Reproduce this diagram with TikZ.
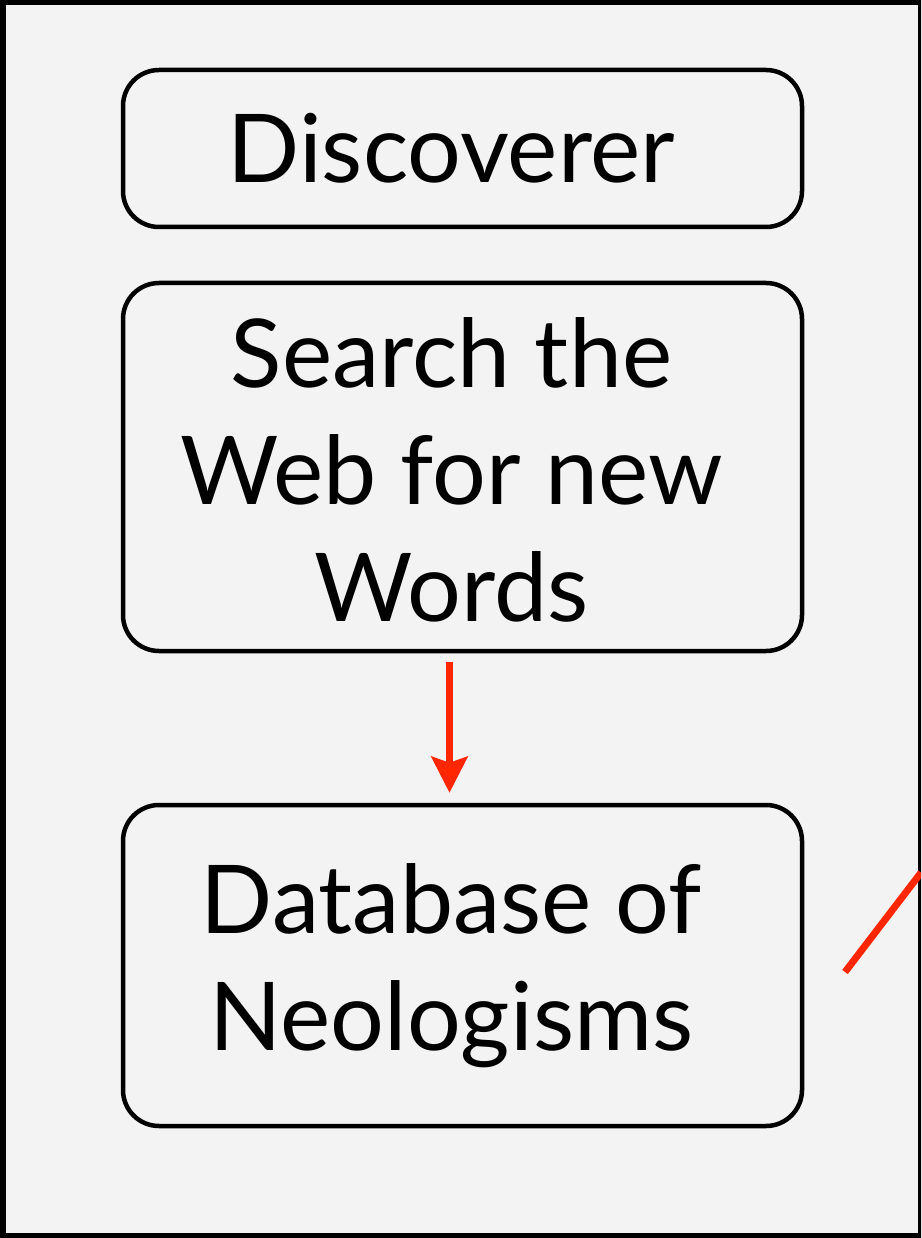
\documentclass[tikz,border=0pt]{standalone}
\usepackage{fontspec}
\setmainfont{Lato}
\usepackage{tikz}
\usetikzlibrary{arrows.meta,positioning}
\usepackage{xcolor}
\definecolor{dgpanel}{RGB}{243,243,243}
\definecolor{dgred}{RGB}{255,38,0}
\tikzstyle{arrow} = [line width=7pt,-{Stealth[length=36pt,width=36pt,inset=6pt]},color=dgred]
\tikzstyle{stage} = [rectangle, rounded corners=36pt, minimum width=679pt, draw=black, line width=4.5pt]

\begin{document}
\begin{tikzpicture}[x=1pt, y=-1pt,
    stagetext/.style={align=center, xshift=-11pt, font=\fontsize{95}{117}\selectfont},
    link/.style={line width=7pt, dgred}]

% Page and panel
\useasboundingbox (0,0) rectangle (921,1238);
\clip (0,0) rectangle (921,1238);
\draw[line width=5.5pt, fill=dgpanel] (3,2.5) rectangle (920.5,1235.5);

% Stages
\node[stage, minimum height=157pt, label={[stagetext]center:Discoverer}] (discoverer) at (462.5,148.5) {};
\node[stage, minimum height=368pt, label={[stagetext, yshift=-3pt]center:Search the\\Web for new\\Words}] (search) at (462.5,467) {};
\node[stage, minimum height=321pt, label={[stagetext]center:Database of\\Neologisms}] (database) at (462.5,965.5) {};

% Connections
\draw[arrow, shorten <=9pt, shorten >=10pt] ([xshift=-13pt]search.south) -- ([xshift=-13pt]database.north);

% Outgoing link
\coordinate (linkstart) at (845,972);
\coordinate (linkend) at (921,872.6);
\draw[link] (linkstart) -- (linkend);
\end{tikzpicture}
\end{document}
